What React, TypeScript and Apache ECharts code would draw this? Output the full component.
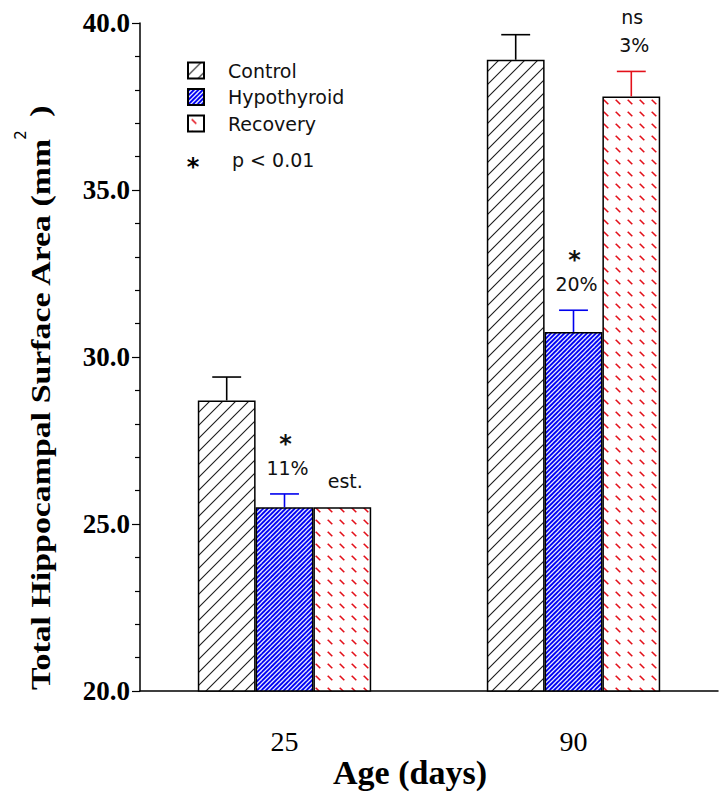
import React, { useEffect, useRef } from 'react';
import * as echarts from 'echarts';

// ---- data ----
const categories = ['25', '90'];
const seriesNames = ['Control', 'Hypothyroid', 'Recovery'];
const controlMeans = [28.7, 38.9];
const hypoMeans = [25.5, 30.75];
const recoveryMeans = [25.5, 37.8];
const controlErr = [0.7, 0.75];
const hypoErr = [0.4, 0.65];
const recoveryErr = [0, 0.75];
const controlNotes = ['', ''];
const hypoNotes = ['11%', '20%'];
const recoveryNotes = ['est.', '3%'];
const controlSig = ['', ''];
const hypoSig = ['*', '*'];
const recoverySig = ['', 'ns'];
const yMin = 20;
const yMax = 40;
const yInterval = 5;
const yAxisTitle = 'Total Hippocampal Surface Area (mm';
const yAxisTitleSup = '2';
const yAxisTitleEnd = ')';
const xAxisTitle = 'Age (days)';
const sigLegendText = 'p < 0.01';

const allMeans = [controlMeans, hypoMeans, recoveryMeans];
const allErr = [controlErr, hypoErr, recoveryErr];
const allNotes = [controlNotes, hypoNotes, recoveryNotes];
const allSig = [controlSig, hypoSig, recoverySig];

// ---- styles ----
const errColors = ['#000000', '#0000ee', '#e3101a'];
const SANS = '"DejaVu Sans", sans-serif';
const SERIF = '"Liberation Serif", "Times New Roman", serif';

function makeTile(w: number, h: number, draw: (ctx: CanvasRenderingContext2D) => void) {
  const c = document.createElement('canvas');
  c.width = w;
  c.height = h;
  const ctx = c.getContext('2d')!;
  draw(ctx);
  return { image: c.toDataURL(), repeat: 'repeat', imageWidth: w, imageHeight: h } as any;
}

function makePatterns() {
  const control = makeTile(13, 13, (ctx) => {
    const s = 13;
    ctx.fillStyle = '#ffffff';
    ctx.fillRect(0, 0, s, s);
    ctx.strokeStyle = '#1a1a1a';
    ctx.lineWidth = 1.1;
    for (const k of [-s, 0, s]) {
      ctx.beginPath();
      ctx.moveTo(k - 1, s + 1);
      ctx.lineTo(k + s + 1, -1);
      ctx.stroke();
    }
  });
  const hypo = makeTile(9, 9, (ctx) => {
    const s = 9;
    ctx.fillStyle = '#0000f2';
    ctx.fillRect(0, 0, s, s);
    ctx.strokeStyle = '#e6e9ff';
    ctx.lineWidth = 1.25;
    for (const k of [-s, -s / 2, 0, s / 2, s]) {
      ctx.beginPath();
      ctx.moveTo(k - 1, s + 1);
      ctx.lineTo(k + s + 1, -1);
      ctx.stroke();
    }
  });
  const recovery = makeTile(12, 12, (ctx) => {
    const s = 12;
    ctx.fillStyle = '#ffffff';
    ctx.fillRect(0, 0, s, s);
    ctx.strokeStyle = '#e3101a';
    ctx.lineWidth = 1.6;
    const cx = s / 2;
    const cy = s / 2;
    ctx.beginPath();
    ctx.moveTo(cx - 2.3, cy - 2.3);
    ctx.lineTo(cx + 2.3, cy + 2.3);
    ctx.stroke();
  });
  return [control, hypo, recovery];
}

export default function App() {
  const ref = useRef<HTMLDivElement>(null);

  useEffect(() => {
    if (!ref.current) return;
    const chart = echarts.init(ref.current, undefined, { renderer: 'svg' });
    const patterns = makePatterns();

    const barSeries = seriesNames.map((name, g) => ({
      name,
      type: 'bar',
      data: allMeans[g],
      barWidth: '20%',
      barGap: '0%',
      itemStyle: { color: patterns[g], borderColor: '#000', borderWidth: 1.5 },
      emphasis: { disabled: true },
    }));

    const errData: number[][] = [];
    for (let g = 0; g < 3; g++) {
      for (let c = 0; c < categories.length; c++) {
        errData.push([c, allMeans[g][c], allErr[g][c], g]);
      }
    }

    const errSeries = {
      type: 'custom',
      name: 'errors',
      coordinateSystem: 'cartesian2d',
      encode: { x: 0, y: 1 },
      z: 5,
      silent: true,
      data: errData,
      renderItem: (params: any, api: any) => {
        const cat = api.value(0);
        const mean = api.value(1);
        const err = api.value(2);
        const g = api.value(3);
        const bw = api.size([1, 0])[0] * 0.2;
        const base = api.coord([cat, mean]);
        const x = base[0] + (g - 1) * bw;
        const topY = api.coord([cat, mean + err])[1];
        const color = errColors[g];
        const children: any[] = [];
        if (err > 0) {
          children.push({
            type: 'line',
            shape: { x1: x, y1: base[1], x2: x, y2: topY },
            style: { stroke: color, lineWidth: 1.6 },
          });
          children.push({
            type: 'line',
            shape: { x1: x - bw / 4, y1: topY, x2: x + bw / 4, y2: topY },
            style: { stroke: color, lineWidth: 1.6 },
          });
        }
        const note = allNotes[g][cat];
        if (note) {
          children.push({
            type: 'text',
            x: x + 3,
            y: topY - 26,
            style: { text: note, font: `19px ${SANS}`, fill: '#111', align: 'center', verticalAlign: 'middle' },
          });
        }
        const sig = allSig[g][cat];
        if (sig) {
          const isStar = sig === '*';
          children.push({
            type: 'text',
            x: x + 1,
            y: topY - 54 + (isStar ? 4 : 0),
            style: {
              text: sig,
              font: isStar ? `bold 24px ${SANS}` : `19px ${SANS}`,
              fill: '#111',
              align: 'center',
              verticalAlign: 'middle',
            },
          });
        }
        return { type: 'group', children };
      },
    };

    chart.setOption({
      animation: false,
      backgroundColor: '#ffffff',
      grid: { left: 140, right: 8, top: 23, bottom: 104, containLabel: false },
      legend: {
        orient: 'vertical',
        left: 187,
        top: 61,
        padding: 0,
        itemWidth: 16,
        itemHeight: 16,
        itemGap: 7.5,
        icon: 'rect',
        selectedMode: false,
        data: seriesNames,
        textStyle: {
          fontFamily: SANS,
          fontSize: 19,
          color: '#111',
          padding: [0, 0, 0, 19],
        },
      },
      xAxis: {
        type: 'category',
        data: categories,
        axisLine: { show: true, lineStyle: { color: '#000', width: 1.5 } },
        axisTick: { show: false },
        axisLabel: { fontFamily: SERIF, fontSize: 28, color: '#000', margin: 36 },
        splitLine: { show: false },
      },
      yAxis: {
        type: 'value',
        min: yMin,
        max: yMax,
        interval: yInterval,
        axisLine: { show: true, lineStyle: { color: '#000', width: 1.5 } },
        axisTick: { show: true, length: 8, lineStyle: { color: '#000', width: 1.2 } },
        minorTick: { show: true, splitNumber: 5, length: 5, lineStyle: { color: '#000', width: 1.2 } },
        axisLabel: {
          fontFamily: SERIF,
          fontWeight: 'bold',
          fontSize: 27,
          color: '#000',
          margin: 10,
          formatter: (v: number) => v.toFixed(1),
        },
        splitLine: { show: false },
      },
      graphic: [
        {
          type: 'text',
          x: 41,
          y: 690,
          rotation: Math.PI / 2,
          scaleX: 1.21,
          style: {
            text: yAxisTitle,
            font: `bold 28px ${SERIF}`,
            fill: '#000',
            align: 'left',
            verticalAlign: 'middle',
          },
        },
        {
          type: 'text',
          x: 21,
          y: 135,
          rotation: Math.PI / 2,
          style: { text: yAxisTitleSup, font: `15px ${SANS}`, fill: '#000', align: 'center', verticalAlign: 'middle' },
        },
        {
          type: 'text',
          x: 40,
          y: 111,
          rotation: Math.PI / 2,
          scaleX: 1.21,
          style: { text: yAxisTitleEnd, font: `bold 28px ${SERIF}`, fill: '#000', align: 'center', verticalAlign: 'middle' },
        },
        {
          type: 'text',
          x: 410,
          y: 772,
          style: { text: xAxisTitle, font: `bold 34px ${SERIF}`, fill: '#000', align: 'center', verticalAlign: 'middle' },
        },
        {
          type: 'text',
          x: 193,
          y: 167,
          style: { text: '*', font: `bold 24px ${SANS}`, fill: '#000', align: 'center', verticalAlign: 'middle' },
        },
        {
          type: 'text',
          x: 232,
          y: 160,
          style: { text: sigLegendText, font: `19px ${SANS}`, fill: '#111', align: 'left', verticalAlign: 'middle' },
        },
      ],
      series: [...barSeries, errSeries],
    } as any);

    return () => chart.dispose();
  }, []);

  return (
    <div
      ref={ref}
      style={{ position: 'fixed', left: 0, top: 0, width: 726, height: 795, background: '#fff' }}
    />
  );
}
